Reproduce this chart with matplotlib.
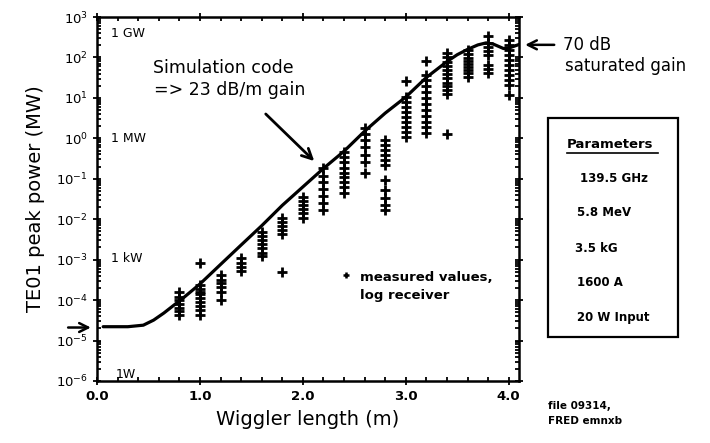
import matplotlib
matplotlib.use("Agg")
import matplotlib.pyplot as plt
from matplotlib.patches import Rectangle
from matplotlib.lines import Line2D
from matplotlib.ticker import MultipleLocator, LogLocator

# simulation curve (wiggler length in m, TE01 power in MW)
sim_x = [0.06, 0.3, 0.45, 0.55, 0.65, 0.75, 0.85, 1.0, 1.2, 1.4, 1.6, 1.8, 2.0,
         2.2, 2.4, 2.6, 2.8, 3.0, 3.2, 3.4, 3.5, 3.6, 3.7, 3.78, 3.85, 3.95, 4.0, 4.1]
sim_p = [2.2e-5, 2.2e-5, 2.4e-5, 3.2e-5, 4.8e-5, 7.6e-5, 1.2e-4, 2.5e-4, 7.6e-4,
         2.3e-3, 6.9e-3, 0.022, 0.063, 0.18, 0.48, 1.5, 4.2, 10.5, 32, 79, 117,
         158, 204, 229, 214, 166, 170, 209]

# measured values, log receiver (one list per wiggler length)
meas = {
    0.8: [1.6e-4, 1.2e-4, 1.0e-4, 8.1e-5, 6.5e-5, 5.4e-5, 4.2e-5],
    1.0: [8.3e-4, 2.3e-4, 1.9e-4, 1.6e-4, 1.4e-4, 1.1e-4, 8.9e-5, 7.1e-5, 5.6e-5, 4.2e-5],
    1.2: [4.1e-4, 3.2e-4, 2.6e-4, 2.1e-4, 1.6e-4, 1.0e-4],
    1.4: [1.1e-3, 8.1e-4, 6.5e-4, 5.1e-4],
    1.6: [4.8e-3, 3.8e-3, 3.0e-3, 2.4e-3, 1.9e-3, 1.5e-3, 1.2e-3],
    1.8: [1.05e-2, 8.5e-3, 6.8e-3, 5.4e-3, 4.3e-3, 4.9e-4],
    2.0: [3.5e-2, 2.8e-2, 2.2e-2, 1.8e-2, 1.4e-2, 1.05e-2],
    2.2: [0.18, 0.12, 0.083, 0.055, 0.037, 0.025, 0.017],
    2.4: [0.46, 0.35, 0.26, 0.19, 0.14, 0.11, 0.083, 0.062, 0.044],
    2.6: [1.8, 1.26, 0.91, 0.60, 0.38, 0.26, 0.14],
    2.8: [0.91, 0.68, 0.51, 0.38, 0.29, 0.22, 0.093, 0.052, 0.033, 0.022, 0.017],
    3.0: [26, 10.5, 7.9, 5.9, 4.5, 3.3, 2.5, 1.9, 1.4, 1.07],
    3.2: [81, 36, 28, 19.5, 13.8, 10, 7.1, 5.0, 3.5, 2.5, 1.9, 1.35],
    3.4: [129, 102, 78, 62, 49, 39, 31, 23, 19.5, 15.5, 12.3, 1.26],
    3.6: [151, 120, 98, 81, 69, 58, 49, 41, 32],
    3.8: [340, 230, 180, 145, 115, 65, 51, 41],
    4.0: [269, 204, 151, 115, 87, 65, 49, 36, 28, 21, 11.7],
}

power_marks = ["1 GW", "1 MW", "1 kW", "1W"]
power_vals = [4e2, 1.0, 1.07e-3, 1.45e-6]
params = ["139.5 GHz", "5.8 MeV", "3.5 kG", "1600 A", "20 W Input"]

W, H = 710, 443
fig = plt.figure(figsize=(W / 100, H / 100), dpi=100)
ax = fig.add_axes([97 / W, 1 - 381 / H, 422 / W, 364 / H])


def fx(px):
    return px / W


def fy(py):
    return 1 - py / H


ax.plot(sim_x, sim_p, color="black", lw=2.3, solid_capstyle="round")
for xv, ys in meas.items():
    ax.plot([xv] * len(ys), ys, linestyle="none", marker="+", ms=7.5, mew=2.0, color="black")

ax.set_yscale("log")
ax.set_xlim(0, 4.1)
ax.set_ylim(1e-6, 1e3)
ax.xaxis.set_major_locator(MultipleLocator(1.0))
ax.xaxis.set_minor_locator(MultipleLocator(0.2))
ax.xaxis.set_major_formatter(plt.FuncFormatter(lambda v, p: "%.1f" % v))
ax.yaxis.set_major_locator(LogLocator(base=10, numticks=20))
ax.yaxis.set_minor_locator(LogLocator(base=10, subs=range(2, 10), numticks=20))
ax.tick_params(which="both", top=True, right=True, labelsize=9.5, width=1.3)
ax.tick_params(which="major", direction="inout", length=6)
ax.tick_params(which="minor", direction="in", length=3)
for lab in ax.get_xticklabels():
    lab.set_fontweight("bold")
for sp in ax.spines.values():
    sp.set_linewidth(1.8)

ax.set_xlabel("Wiggler length (m)", fontsize=14, labelpad=5)
ax.set_ylabel("TE01 peak power (MW)", fontsize=14, labelpad=8)

for t, v in zip(power_marks, power_vals):
    ax.text(0.14 if t != "1W" else 0.18, v, t, fontsize=9, va="center", ha="left")

ax.text(0.54, 10 ** 1.74, "Simulation code", fontsize=12.5, va="center")
ax.text(0.55, 10 ** 1.19, "=> 23 dB/m gain", fontsize=12.5, va="center")
ax.annotate("", xy=(2.13, 10 ** -0.61), xytext=(1.62, 10 ** 0.65),
            arrowprops=dict(arrowstyle="->", lw=2, color="black", mutation_scale=18))

ax.plot([2.42], [10 ** -3.39], linestyle="none", marker="+", ms=5, mew=1.8, color="black")
ax.text(2.56, 10 ** -3.44, "measured values,", fontsize=9.5, fontweight="bold", va="center")
ax.text(2.56, 10 ** -3.88, "log receiver", fontsize=9.5, fontweight="bold", va="center")

# input power arrow on the left axis
ytr = ax.get_yaxis_transform()
ax.annotate("", xy=(-0.008, 2.1e-5), xycoords=ytr, xytext=(-0.075, 2.1e-5), textcoords=ytr,
            arrowprops=dict(arrowstyle="->", lw=1.8, color="black", mutation_scale=16),
            annotation_clip=False)
# saturated gain arrow on the right axis
ax.annotate("", xy=(1.008, 205), xycoords=ytr, xytext=(1.09, 205), textcoords=ytr,
            arrowprops=dict(arrowstyle="->", lw=1.8, color="black", mutation_scale=16),
            annotation_clip=False)
fig.text(fx(563), fy(45), "70 dB", fontsize=12, va="center")
fig.text(fx(565), fy(66), "saturated gain", fontsize=12, va="center")

# parameters box
fig.add_artist(Rectangle((fx(548), fy(337)), 130 / W, 219 / H, transform=fig.transFigure,
                         fill=False, lw=1.6, edgecolor="black"))
fig.text(fx(567), fy(145), "Parameters", fontsize=9.5, fontweight="bold", va="center")
fig.add_artist(Line2D([fx(567), fx(658)], [fy(153), fy(153)], transform=fig.transFigure,
                      lw=1.2, color="black"))
rows_y = [179, 212, 248, 283, 318]
rows_x = [580, 577, 575, 577, 577]
for t, px, py in zip(params, rows_x, rows_y):
    fig.text(fx(px), fy(py), t, fontsize=8.5, fontweight="bold", va="center")

fig.text(fx(548), fy(406), "file 09314,", fontsize=7.5, fontweight="bold", va="center")
fig.text(fx(548), fy(421), "FRED emnxb", fontsize=7.5, fontweight="bold", va="center")

fig.savefig("out.png", dpi=100)
